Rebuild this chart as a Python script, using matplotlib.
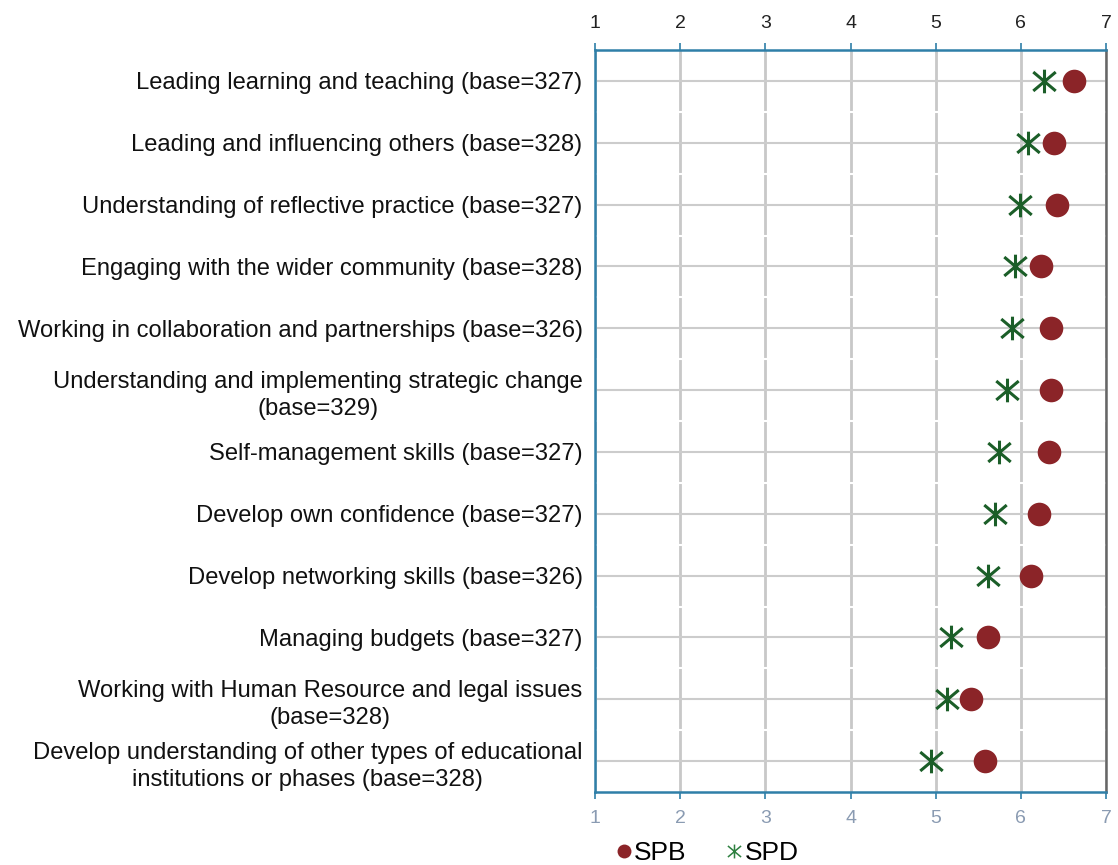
import matplotlib
matplotlib.use("Agg")
import matplotlib.pyplot as plt
from matplotlib.path import Path
from matplotlib.lines import Line2D

plt.rcParams['font.family'] = ['Liberation Sans', 'DejaVu Sans']

categories = [
    "Leading learning and teaching (base=327)",
    "Leading and influencing others (base=328)",
    "Understanding of reflective practice (base=327)",
    "Engaging with the wider community (base=328)",
    "Working in collaboration and partnerships (base=326)",
    "Understanding and implementing strategic change\n(base=329)",
    "Self-management skills (base=327)",
    "Develop own confidence (base=327)",
    "Develop networking skills (base=326)",
    "Managing budgets (base=327)",
    "Working with Human Resource and legal issues\n(base=328)",
    "Develop understanding of other types of educational\ninstitutions or phases (base=328)",
]
spb = [6.62, 6.39, 6.42, 6.24, 6.36, 6.36, 6.33, 6.21, 6.12, 5.62, 5.41, 5.58]
spd = [6.27, 6.08, 5.99, 5.93, 5.90, 5.84, 5.74, 5.70, 5.62, 5.18, 5.13, 4.95]
ticks = [1, 2, 3, 4, 5, 6, 7]

SPB_COLOR = "#8b2428"
SPD_COLOR = "#1b5e28"
FRAME = "#2f7fa8"

# six-armed star: vertical stroke plus a saltire
star = Path(
    [(0, -1), (0, 1), (-0.95, -0.8), (0.95, 0.8), (-0.95, 0.8), (0.95, -0.8)],
    [Path.MOVETO, Path.LINETO, Path.MOVETO, Path.LINETO, Path.MOVETO, Path.LINETO],
)

fig = plt.figure(figsize=(11.18, 8.65), dpi=100)
ax = fig.add_axes([595 / 1118, 1 - 792 / 865, 511 / 1118, 742 / 865])

y = list(range(len(categories)))

ax.set_xlim(1, 7)
ax.set_ylim(len(categories) - 0.5, -0.5)

# grid
for t in ticks:
    ax.axvline(t, color="#c8c8c8", lw=2.0, zorder=1)
for yi in y:
    ax.axhline(yi, color="#cccccc", lw=1.5, zorder=1)
for yi in y[:-1]:
    ax.axhline(yi + 0.5, color="white", lw=1.5, zorder=1.5)

ax.plot(spb, y, linestyle="none", marker="o", markersize=17,
        color=SPB_COLOR, markeredgewidth=0, zorder=3)
ax.plot(spd, y, linestyle="none", marker=star, markersize=17,
        color=SPD_COLOR, markeredgewidth=2.2, fillstyle="none", zorder=3)

ax.set_yticks(y)
ax.set_yticklabels(categories, fontsize=17.1, color="#111111",
                   multialignment="center", linespacing=1.3)
ax.tick_params(axis="y", length=0, pad=9)

ax.set_xticks(ticks)
ax.set_xticklabels([str(t) for t in ticks])
ax.tick_params(axis="x", which="both", top=False, labeltop=False, bottom=True,
               labelbottom=True, direction="out", length=5, width=1.2,
               color=FRAME, labelsize=14, pad=8)
for lab in ax.get_xticklabels():
    lab.set_color("#8a9bb2")
sec = ax.secondary_xaxis("top")
sec.set_xticks(ticks)
sec.set_xticklabels([str(t) for t in ticks], fontsize=14, color="#222222")
sec.tick_params(direction="out", length=5, width=1.2, color=FRAME, pad=8)
sec.spines["top"].set_visible(False)

for side in ("top", "bottom", "left"):
    ax.spines[side].set_color(FRAME)
    ax.spines[side].set_linewidth(1.8)
ax.spines["right"].set_color("#666666")
ax.spines["right"].set_linewidth(1.8)

handles = [
    Line2D([], [], linestyle="none", marker="o", markersize=10,
           color=SPB_COLOR, markeredgewidth=0),
    Line2D([], [], linestyle="none", marker=star, markersize=10,
           color="#2e8040", markeredgewidth=1.1, fillstyle="none"),
]
fig.legend(handles, ["SPB", "SPD"], loc="center left",
           bbox_to_anchor=(617 / 1118, 1 - 853 / 865), ncol=2, frameon=False,
           fontsize=19, handlelength=0.5, handletextpad=0.15, columnspacing=1.55,
           borderaxespad=0, borderpad=0)

fig.savefig("out.png", dpi=100)
